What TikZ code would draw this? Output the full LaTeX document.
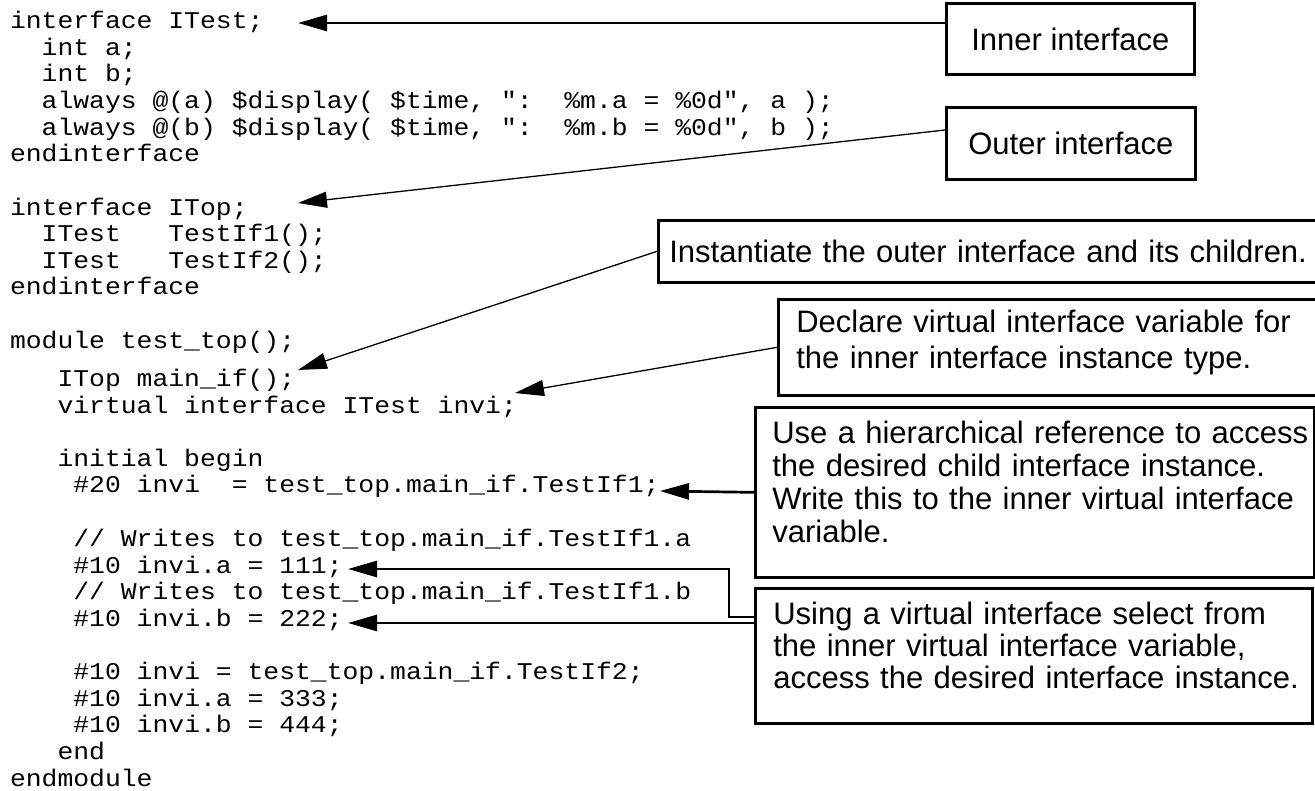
\documentclass[tikz,border=0pt]{standalone}
\usepackage{fontspec}
\newfontfamily\codefont[Ligatures=TeXOff,FakeStretch=1.1]{Liberation Mono}
\newfontfamily\labelfont{Liberation Sans}
\usetikzlibrary{arrows.meta,calc}
\newcommand\sk{\hphantom{0}}
\begin{document}
\begin{tikzpicture}[x=1pt,y=-1pt,
  code/.style={anchor=base west,inner sep=0pt,font=\codefont\fontsize{24pt}{26pt}\selectfont},
  cbox/.style={draw,line width=2.7pt,anchor=north west,inner sep=0pt,text height=23pt},
  lf/.style={font=\labelfont\fontsize{31pt}{#1}\selectfont},
  harrow/.style={line width=2.7pt,-{Triangle[length=29pt,width=16pt]}},
  larrow/.style={line width=1.3pt,-{Triangle[length=29pt,width=16pt]}}]
\useasboundingbox (0,0) rectangle (1315,791);

% code lines
\node[code] (l0)  at (9.8,28.5)   {interface\sk ITest;};
\node[code] (l1)  at (9.8,55.15)  {\sk\sk int\sk a;};
\node[code] (l2)  at (9.8,81.8)   {\sk\sk int\sk b;};
\node[code] (l3)  at (9.8,108.45) {\sk\sk always\sk @(a)\sk\$display(\sk\$time,\sk":\sk\sk\%m.a\sk=\sk\%0d",\sk a\sk);};
\node[code] (l4)  at (9.8,135.1)  {\sk\sk always\sk @(b)\sk\$display(\sk\$time,\sk":\sk\sk\%m.b\sk=\sk\%0d",\sk b\sk);};
\node[code] (l5)  at (9.8,161.75) {endinterface};
\node[code] (l7)  at (9.8,215.05) {interface\sk ITop;};
\node[code] (l8)  at (9.8,241.7)  {\sk\sk ITest\sk\sk\sk TestIf1();};
\node[code] (l9)  at (9.8,268.35) {\sk\sk ITest\sk\sk\sk TestIf2();};
\node[code] (l10) at (9.8,295)    {endinterface};
\node[code] (l12) at (9.8,348.3)  {module\sk test\_top();};
\node[code] (l13) at (9.8,386.4)  {\sk\sk\sk ITop\sk main\_if();};
\node[code] (l14) at (9.8,413.1)  {\sk\sk\sk virtual\sk interface\sk ITest\sk invi;};
\node[code] (l16) at (9.8,466.4)  {\sk\sk\sk initial\sk begin};
\node[code] (l17) at (9.8,493.0)  {\sk\sk\sk\sk\#20\sk invi\sk\sk=\sk test\_top.main\_if.TestIf1;};
\node[code] (l19) at (9.8,546.3)  {\sk\sk\sk\sk//\sk Writes\sk to\sk test\_top.main\_if.TestIf1.a};
\node[code] (l20) at (9.8,573.0)  {\sk\sk\sk\sk\#10\sk invi.a\sk=\sk 111;};
\node[code] (l21) at (9.8,599.6)  {\sk\sk\sk\sk//\sk Writes\sk to\sk test\_top.main\_if.TestIf1.b};
\node[code] (l22) at (9.8,626.3)  {\sk\sk\sk\sk\#10\sk invi.b\sk=\sk 222;};
\node[code] (l24) at (9.8,679.6)  {\sk\sk\sk\sk\#10\sk invi\sk=\sk test\_top.main\_if.TestIf2;};
\node[code] (l25) at (9.8,706.2)  {\sk\sk\sk\sk\#10\sk invi.a\sk=\sk 333;};
\node[code] (l26) at (9.8,732.9)  {\sk\sk\sk\sk\#10\sk invi.b\sk=\sk 444;};
\node[code] (l27) at (9.8,759.5)  {\sk\sk\sk end};
\node[code] (l28) at (9.8,786.2)  {endmodule};

% annotation boxes
\node[cbox,lf=32pt,minimum width=248pt,minimum height=71pt,text depth=0pt] (inner) at (945,2) {Inner interface};
\node[cbox,lf=32pt,minimum width=249pt,minimum height=72pt,text depth=0pt] (outer) at (945,106) {Outer interface};
\node[cbox,lf=32pt,align=left,text width=700pt,inner xsep=11pt,inner ysep=19.5pt,text depth=0pt] (inst) at (657,219)
  {\mbox{Instantiate the outer interface and its children.}};
\node[cbox,lf=36pt,align=left,text width=600pt,inner xsep=18pt,inner ysep=10pt,text depth=53pt] (decl) at (777,298)
  {\mbox{Declare virtual interface variable for}\\\mbox{the inner interface instance type.}};
\node[cbox,lf=33pt,align=left,text width=525pt,inner xsep=17pt,inner ysep=13pt,text depth=121pt] (use) at (754,406)
  {\mbox{Use a hierarchical reference to access}\\\mbox{the desired child interface instance.}\\\mbox{Write this to the inner virtual interface}\\\mbox{variable.}};
\node[cbox,lf=32pt,align=left,text width=521pt,inner xsep=18pt,inner ysep=13pt,text depth=86pt] (using) at (754,587)
  {\mbox{Using a virtual interface select from}\\\mbox{the inner virtual interface variable,}\\\mbox{access the desired interface instance.}};

% arrow targets
\coordinate (tI) at (298,23);
\coordinate (tO) at (298,203);
\coordinate (tN) at (298,370);
\coordinate (tD) at (515,393);
\coordinate (tU) at (660,491);
\coordinate (tA) at (348,569);
\coordinate (tB) at (348,623);

\draw[harrow] (tI -| inner.west) -- (tI);
\draw[larrow] ($(outer.north west)+(0,24)$) -- (tO);
\draw[larrow] (inst.west) -- (tN);
\draw[larrow] (decl.west) -- (tD);
\draw[harrow] (use.west) -- (tU);
\draw[harrow] ($(using.north west)+(0,30)$) -- ++(-25,0) |- (tA);
\draw[harrow] ($(using.north west)+(0,36)$) -- (tB);
\end{tikzpicture}
\end{document}
